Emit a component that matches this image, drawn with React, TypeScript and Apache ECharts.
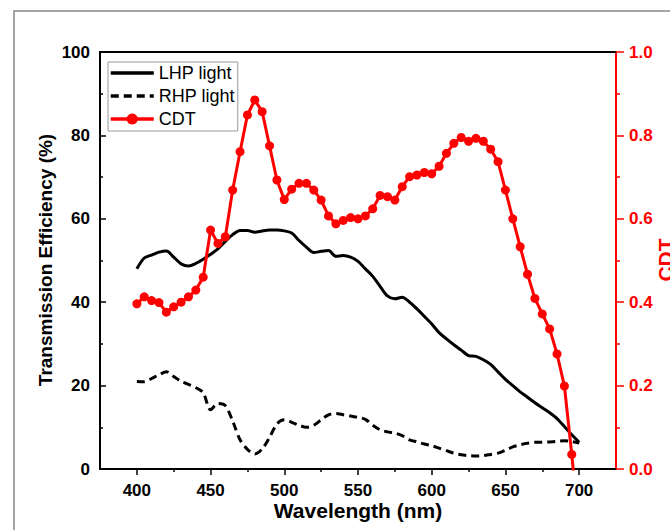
import React, { useEffect, useRef } from "react";
import * as echarts from "echarts";

const wavelengths = [
  400, 405, 410, 415, 420, 425, 430, 435, 440, 445, 450, 455, 460, 465, 470, 475, 480, 485, 490, 495,
  500, 505, 510, 515, 520, 525, 530, 535, 540, 545, 550, 555, 560, 565, 570, 575, 580, 585, 590, 595,
  600, 605, 610, 615, 620, 625, 630, 635, 640, 645, 650, 655, 660, 665, 670, 675, 680, 685, 690, 695, 700,
];

const lhpLight = [
  48.0, 50.6, 51.3, 52.0, 52.3, 50.8, 49.2, 48.7, 49.3, 50.3, 51.5, 52.8, 54.6, 56.2, 57.2, 57.2, 56.8, 57.1, 57.3, 57.3,
  57.1, 56.6, 54.8, 53.2, 51.9, 52.2, 52.4, 51.0, 51.2, 50.8, 49.8, 48.0, 46.2, 43.8, 41.5, 40.8, 41.2, 40.0, 38.4, 36.6,
  34.8, 32.7, 31.2, 29.8, 28.5, 27.2, 27.0, 26.2, 25.1, 23.3, 21.5, 20.0, 18.5, 17.2, 15.9, 14.7, 13.5, 12.1, 10.2, 8.2, 6.4,
];

const rhpLight = [
  21.0, 20.9, 21.7, 22.6, 23.3, 22.2, 21.0, 20.3, 19.5, 18.3, 14.2, 15.7, 15.2, 11.5, 7.0, 4.7, 3.6, 4.8, 7.6, 10.8,
  11.8, 11.2, 10.5, 10.0, 10.5, 11.8, 13.0, 13.3, 13.0, 12.7, 12.4, 11.9, 10.5, 9.4, 8.9, 8.6, 8.0, 7.0, 6.5, 6.0,
  5.6, 5.0, 4.4, 3.8, 3.4, 3.2, 3.1, 3.2, 3.5, 3.8, 4.5, 5.3, 5.8, 6.2, 6.4, 6.4, 6.5, 6.6, 6.8, 6.6, 6.2,
];

const cdt = [
  0.396, 0.413, 0.404, 0.399, 0.376, 0.389, 0.4, 0.413, 0.429, 0.46, 0.573, 0.541, 0.557, 0.669, 0.761, 0.849, 0.885, 0.857, 0.775, 0.693,
  0.646, 0.671, 0.685, 0.685, 0.669, 0.645, 0.607, 0.588, 0.596, 0.603, 0.6, 0.607, 0.624, 0.656, 0.653, 0.645, 0.677, 0.701, 0.705, 0.711,
  0.708, 0.726, 0.757, 0.781, 0.795, 0.786, 0.793, 0.786, 0.767, 0.737, 0.669, 0.6, 0.533, 0.467, 0.409, 0.372, 0.336, 0.276, 0.199, 0.035, -0.15,
];

const seriesNames = ["LHP light", "RHP light", "CDT"];
const xMajorTicks = [400, 450, 500, 550, 600, 650, 700];
const xMinorTicks = [425, 475, 525, 575, 625, 675];
const xRange = [375, 725];
const yLeftRange = [0, 100, 20];
const yRightRange = [0, 1, 0.2];
const titles = {
  x: "Wavelength (nm)",
  yLeft: "Transmission Efficiency (%)",
  yRight: "CDT",
};

const FONT = "'Liberation Sans', Arial, Helvetica, sans-serif";

const pairs = (ys: number[]) => wavelengths.map((w, i) => [w, ys[i]]);

export default function App() {
  const ref = useRef<HTMLDivElement>(null);

  useEffect(() => {
    if (!ref.current) return;
    const chart = echarts.init(ref.current, undefined, { renderer: "svg" });
    const labelStyle = { fontFamily: FONT, fontSize: 17, fontWeight: "bold" as const, color: "#000" };
    chart.setOption({
      animation: false,
      backgroundColor: "#fff",
      grid: { left: 100, top: 52, width: 516, height: 417, containLabel: false },
      legend: {
        data: [
          { name: seriesNames[0], itemStyle: { opacity: 0 } },
          { name: seriesNames[1], itemStyle: { opacity: 0 } },
          { name: seriesNames[2] },
        ],
        orient: "vertical",
        left: 108,
        top: 62,
        itemWidth: 43,
        itemHeight: 14,
        itemGap: 5,
        padding: [2, 3, 3, 1],
        borderColor: "#999",
        borderWidth: 1,
        backgroundColor: "#fff",
        lineStyle: { width: 3.5 },
        textStyle: { fontFamily: FONT, fontSize: 18, color: "#000", lineHeight: 18 },
      },
      xAxis: [
        {
          type: "value",
          min: xRange[0],
          max: xRange[1],
          position: "bottom",
          axisLine: { show: true, lineStyle: { color: "#000", width: 2 } },
          axisTick: { show: true, customValues: xMajorTicks, length: 6, lineStyle: { color: "#000", width: 1.5 } },
          axisLabel: { ...labelStyle, customValues: xMajorTicks, margin: 13 },
          splitLine: { show: false },
        },
        {
          type: "value",
          min: xRange[0],
          max: xRange[1],
          position: "bottom",
          axisLine: { show: false },
          axisTick: { show: true, customValues: xMinorTicks, length: 3, lineStyle: { color: "#000", width: 1.5 } },
          axisLabel: { show: false },
          splitLine: { show: false },
        },
        {
          type: "value",
          min: xRange[0],
          max: xRange[1],
          position: "top",
          axisLine: { show: true, lineStyle: { color: "#000", width: 2 } },
          axisTick: { show: false },
          axisLabel: { show: false },
          splitLine: { show: false },
        },
      ],
      yAxis: [
        {
          type: "value",
          position: "left",
          min: yLeftRange[0],
          max: yLeftRange[1],
          interval: yLeftRange[2],
          axisLine: { show: true, lineStyle: { color: "#000", width: 2 } },
          axisTick: { show: true, inside: true, length: 6, lineStyle: { color: "#000", width: 1.5 } },
          minorTick: { show: true, splitNumber: 2, length: 3, lineStyle: { color: "#000", width: 1.5 } },
          axisLabel: { ...labelStyle, margin: 10 },
          splitLine: { show: false },
        },
        {
          type: "value",
          position: "right",
          min: yRightRange[0],
          max: yRightRange[1],
          interval: yRightRange[2],
          axisLine: { show: true, lineStyle: { color: "#ff0000", width: 2 } },
          axisTick: { show: true, length: 8, lineStyle: { color: "#ff0000", width: 1.5 } },
          minorTick: { show: true, splitNumber: 2, length: 4, lineStyle: { color: "#ff0000", width: 1.5 } },
          axisLabel: { ...labelStyle, color: "#ff0000", margin: 13, formatter: (v: number) => v.toFixed(1) },
          splitLine: { show: false },
        },
      ],
      series: [
        {
          name: seriesNames[0],
          type: "line",
          data: pairs(lhpLight),
          symbol: "none",
          smooth: 0.3,
          lineStyle: { color: "#000", width: 3 },
          itemStyle: { color: "#000" },
        },
        {
          name: seriesNames[1],
          type: "line",
          data: pairs(rhpLight),
          symbol: "none",
          smooth: 0.3,
          lineStyle: { color: "#000", width: 3, type: [8, 5] },
          itemStyle: { color: "#000" },
        },
        {
          name: seriesNames[2],
          type: "line",
          yAxisIndex: 1,
          data: pairs(cdt),
          symbol: "circle",
          symbolSize: 9,
          clip: true,
          lineStyle: { color: "#ff0000", width: 3 },
          itemStyle: { color: "#ff0000" },
        },
      ],
      graphic: [
        {
          type: "rect",
          silent: true,
          z: -10,
          shape: { x: 14, y: 11, width: 720, height: 600 },
          style: { fill: "none", stroke: "#888", lineWidth: 1.5 },
        },
        {
          type: "text",
          x: 45,
          y: 260,
          rotation: Math.PI / 2,
          style: {
            text: titles.yLeft,
            fontFamily: FONT,
            fontSize: 19,
            fontWeight: "bold",
            fill: "#000",
            align: "center",
            verticalAlign: "middle",
          },
        },
        {
          type: "text",
          x: 358,
          y: 510,
          style: {
            text: titles.x,
            fontFamily: FONT,
            fontSize: 21,
            fontWeight: "bold",
            fill: "#000",
            align: "center",
            verticalAlign: "middle",
          },
        },
        {
          type: "text",
          x: 665,
          y: 260,
          rotation: Math.PI / 2,
          style: {
            text: titles.yRight,
            fontFamily: FONT,
            fontSize: 21,
            fontWeight: "bold",
            fill: "#ff0000",
            align: "center",
            verticalAlign: "middle",
          },
        },
      ],
    });
    return () => chart.dispose();
  }, []);

  return (
    <div
      ref={ref}
      style={{ position: "fixed", left: 0, top: 0, width: 670, height: 530 }}
    />
  );
}
